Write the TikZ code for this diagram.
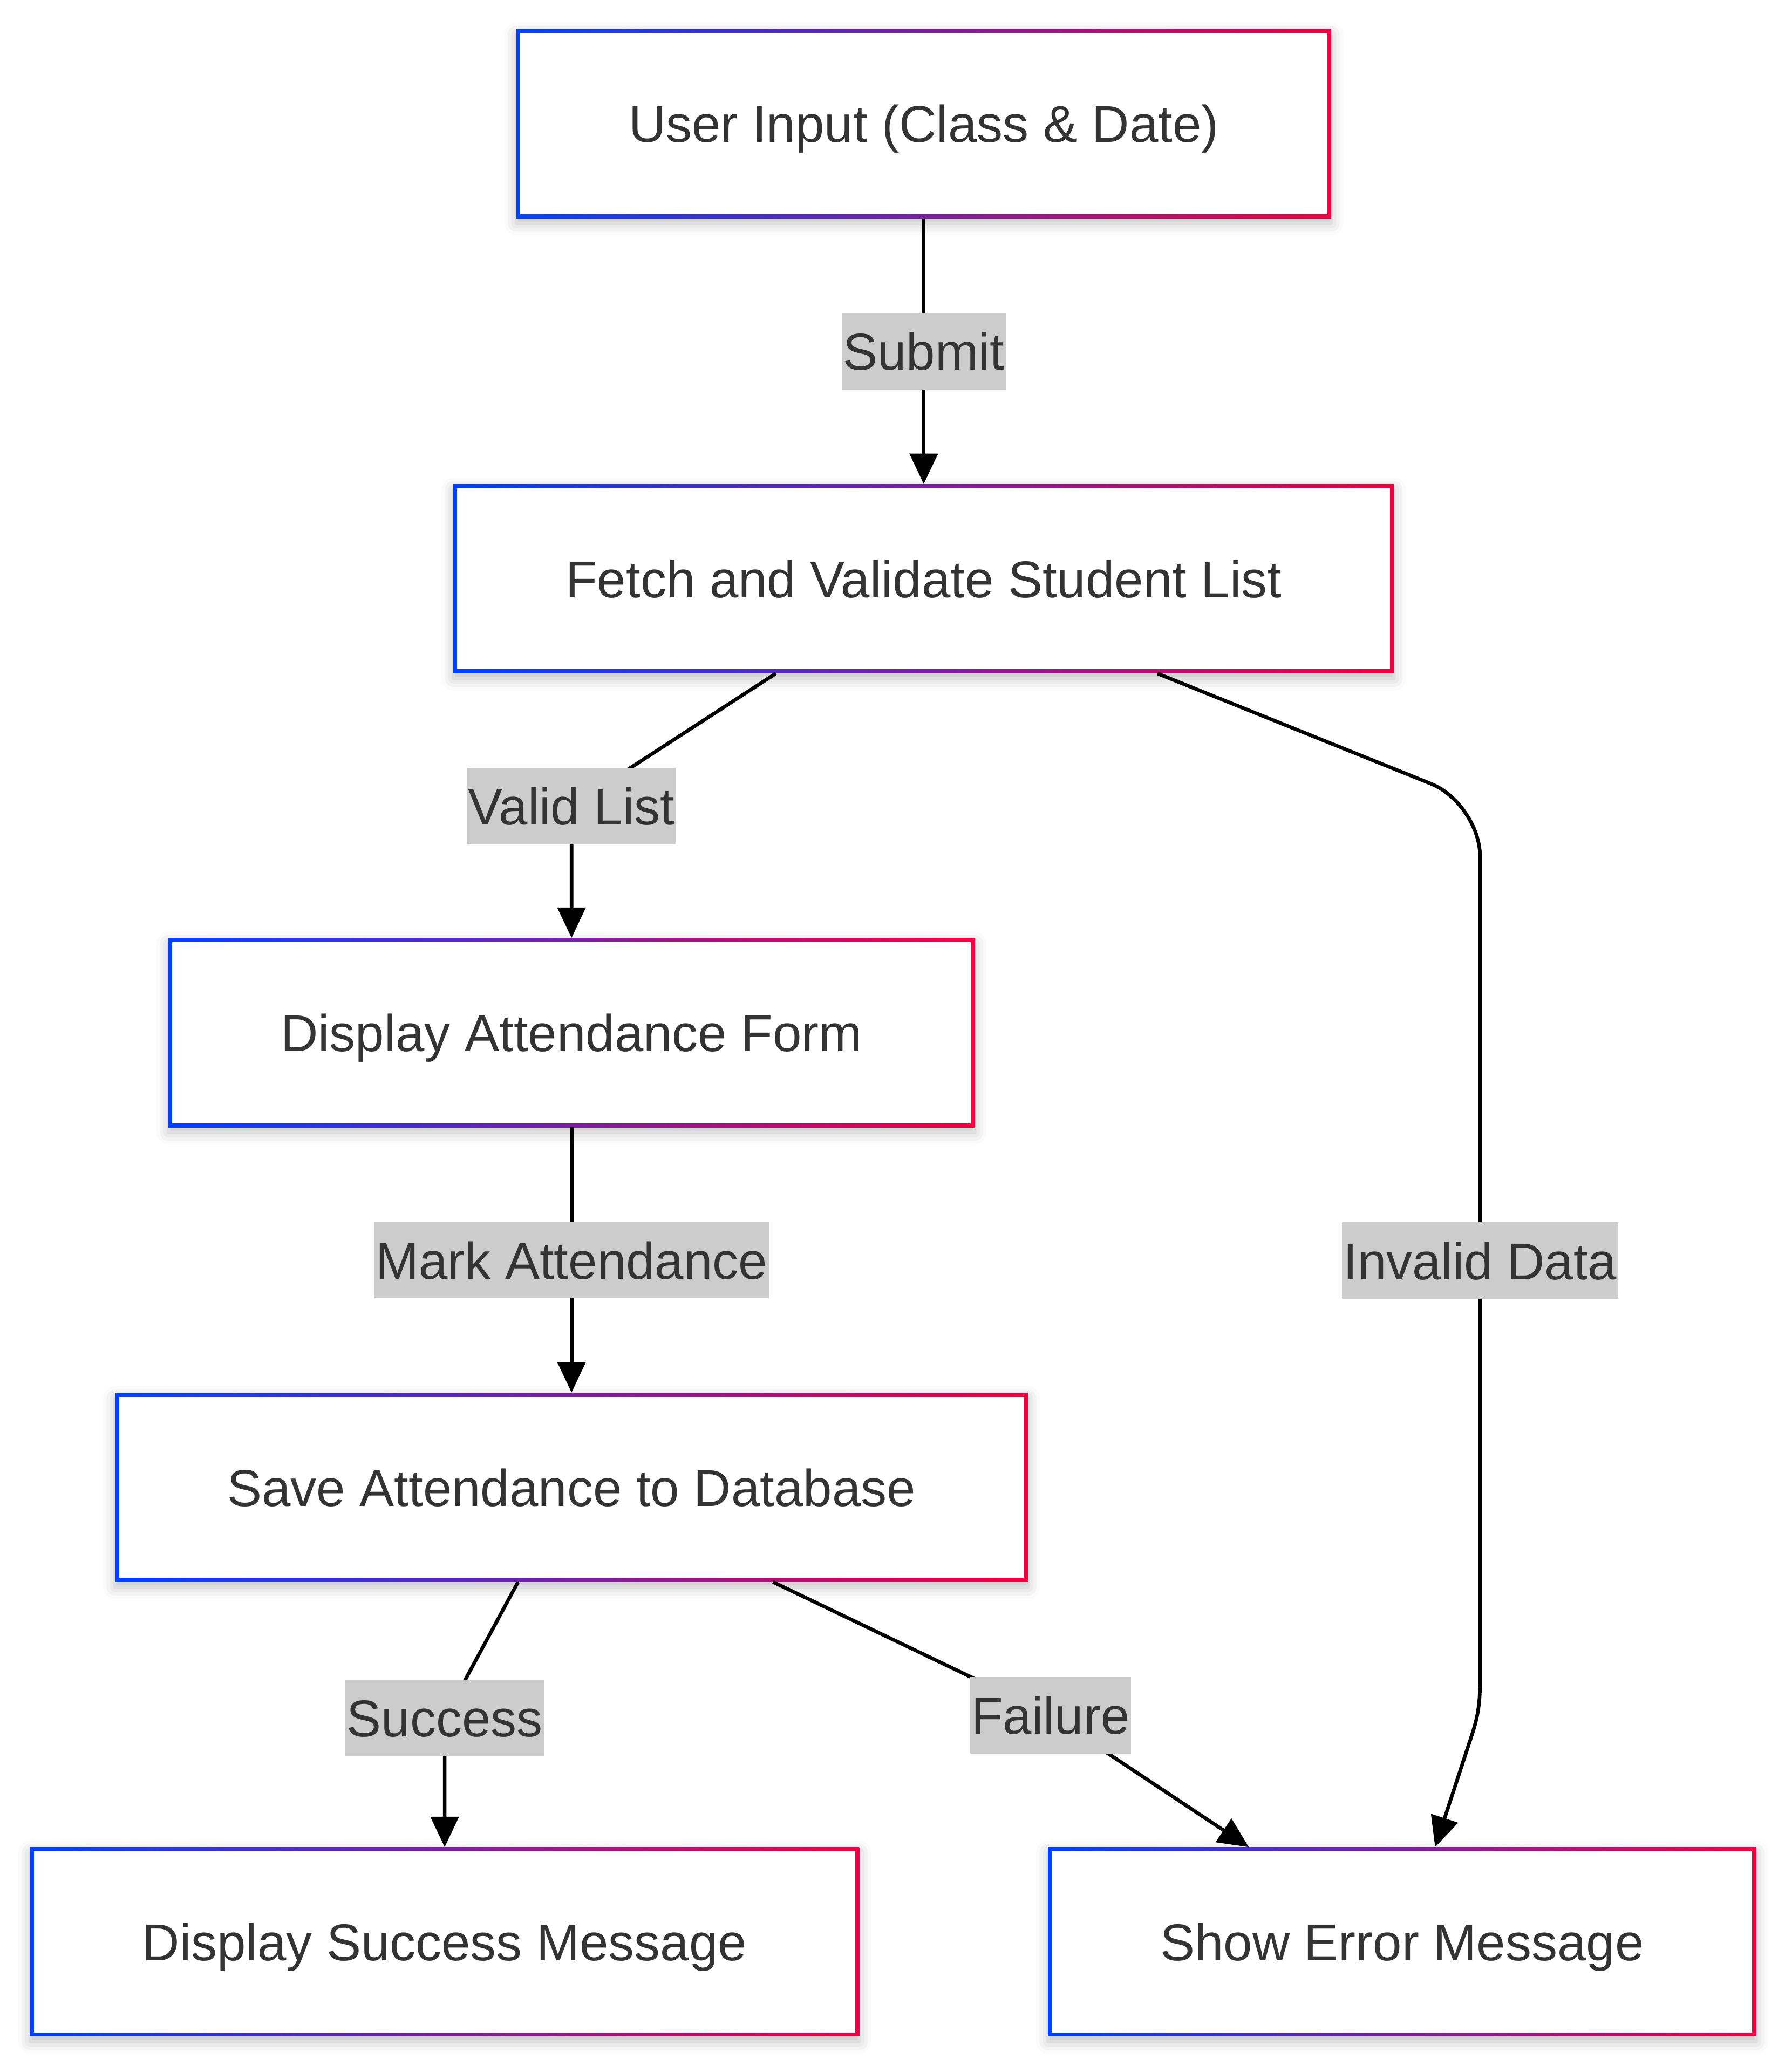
\documentclass[tikz,border=0pt]{standalone}
\usepackage{fontspec}
\setmainfont{Liberation Sans}
\usetikzlibrary{arrows.meta,shadows.blur}
\definecolor{gradblue}{RGB}{0,64,255}
\definecolor{gradred}{RGB}{240,0,64}
\definecolor{textgray}{RGB}{51,51,51}
\definecolor{labelgray}{RGB}{204,204,204}

\begin{document}
\begin{tikzpicture}
  [x=1pt,y=-1pt,
   every node/.style={text=textgray,font=\fontsize{39.2}{47}\selectfont,
     text height=28.6pt,text depth=0pt},
   stepbox/.style={rectangle,inner xsep=85pt,inner ysep=0pt,minimum height=143pt,
     left color=gradblue,right color=gradred,
     blur shadow={shadow xshift=0pt,shadow yshift=-4pt,shadow blur radius=9pt,shadow opacity=25},
     path picture={\fill[white] ([xshift=3pt,yshift=-3pt]path picture bounding box.north west)
       rectangle ([xshift=-3pt,yshift=3pt]path picture bounding box.south east);}},
   edgelabel/.style={sharp corners,fill=labelgray,inner xsep=1pt,inner ysep=0pt,minimum height=58pt},
   flow/.style={draw=black,line width=2.7pt,-{Triangle[length=23pt,width=21pt]}}]
  \useasboundingbox (0,0) rectangle (1356,1568);

  \node[stepbox] (input)   at (699,93.5)    {User Input (Class \& Date)};
  \node[stepbox] (fetch)   at (699,438)     {Fetch and Validate Student List};
  \node[stepbox] (form)    at (432.5,781.5) {Display Attendance Form};
  \node[stepbox] (save)    at (432.5,1125.5) {Save Attendance to Database};
  \node[stepbox] (success) at (336.5,1469.5) {Display Success Message};
  \node[stepbox] (error)   at (1061,1469.5) {Show Error Message};

  \foreach \from/\to/\lbl in {input/fetch/Submit,form/save/Mark Attendance}
    \draw[flow] (\from) -- node[edgelabel] {\lbl} (\to);

  \draw[flow,rounded corners=30pt] ([xshift=-112pt]fetch.south) -- (432.5,610)
    node[edgelabel] {Valid List} -- (form);
  \draw[flow] ([xshift=177pt]fetch.south) -- (1082.9,593.1)
    .. controls (1103.3,601.3) and (1120,626) .. (1120,648) -- (1120,1272)
    .. controls (1120,1295) and (1116.8,1304) .. (1111.5,1320)
    -- ([xshift=25pt]error.north);
  \node[edgelabel] (invalid) at (1120,954) {Invalid Data};
  \draw[flow,rounded corners=30pt] ([xshift=-40.5pt]save.south) -- (336.5,1300)
    node[edgelabel] {Success} -- (success);
  \draw[flow] ([xshift=152.5pt]save.south) -- (795,1298)
    node[edgelabel] {Failure} -- ([xshift=-116pt]error.north);

\end{tikzpicture}
\end{document}
